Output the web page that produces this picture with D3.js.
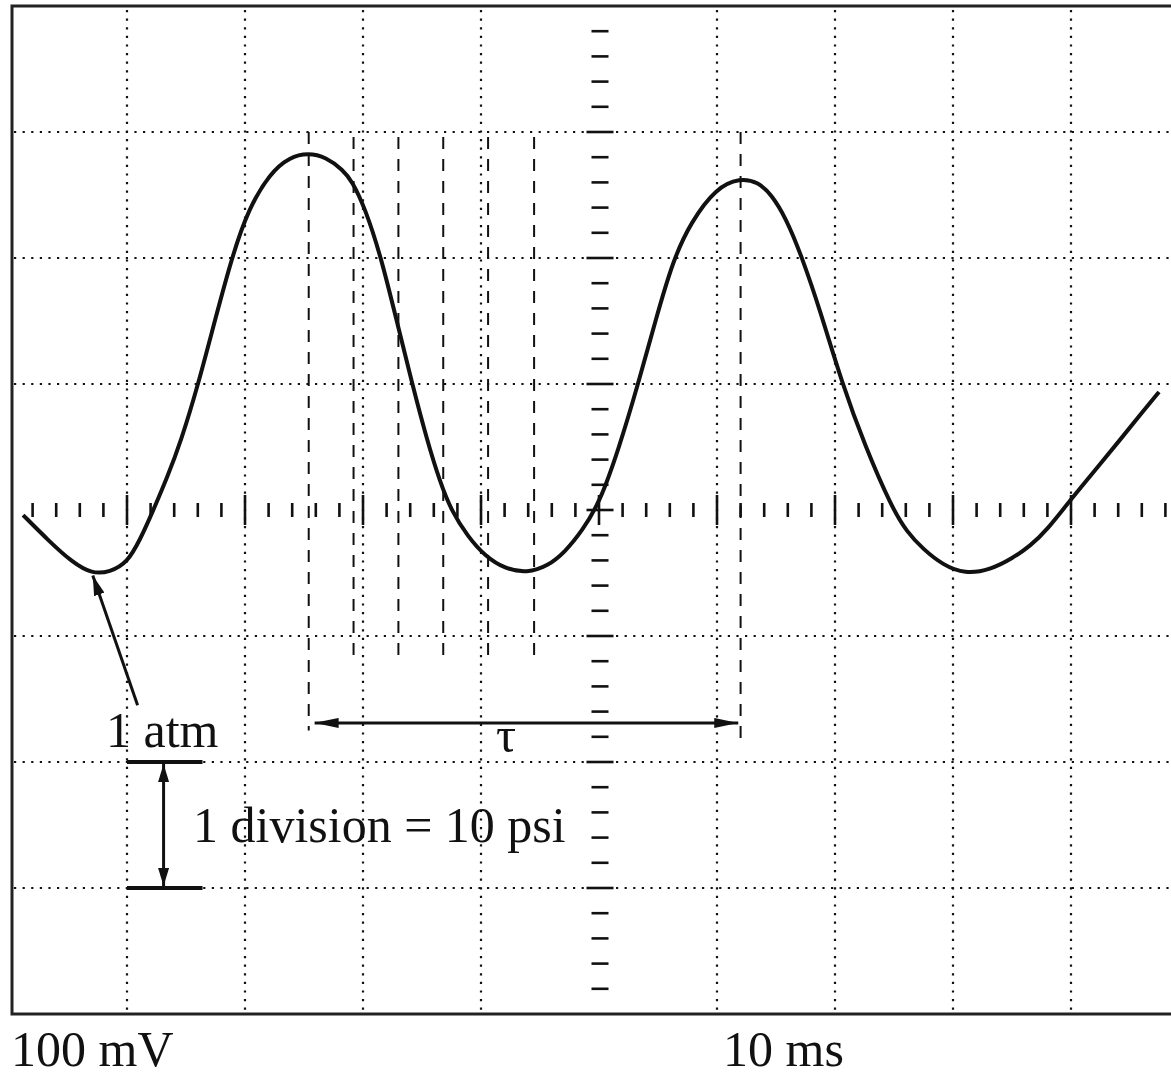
<!DOCTYPE html>
<meta charset="utf-8">
<style>
body { margin: 0; background: #fff; }
text { font-family: "Liberation Serif", "Times New Roman", serif; fill: #111; }
</style>
<svg width="1171" height="1078"></svg>
<script src="https://cdn.jsdelivr.net/npm/d3@7/dist/d3.min.js"></script>
<script>

// trace, in divisions (time, volts)
var waveT = [-4.881, -4.653, -4.466, -4.297, -4.144, -4.000, -3.890, -3.780, -3.661, -3.542,
             -3.398, -3.254, -3.110, -2.975, -2.788, -2.619, -2.466, -2.314, -2.169, -2.093,
             -1.983, -1.847, -1.712, -1.585, -1.458, -1.347, -1.254, -1.110, -0.966, -0.797,
             -0.610, -0.432, -0.288, -0.144, 0.008, 0.169, 0.322, 0.475, 0.627, 0.780,
              0.992, 1.195, 1.347, 1.458, 1.585, 1.720, 1.873, 2.059, 2.254, 2.483,
              2.610, 2.746, 2.915, 3.102, 3.314, 3.508, 3.653, 3.797, 4.008, 4.212,
              4.415, 4.585, 4.746];
var waveV = [-0.040, -0.254, -0.413, -0.508, -0.492, -0.421, -0.238, -0.008, 0.254, 0.548,
              0.992, 1.508, 2.008, 2.381, 2.675, 2.802, 2.833, 2.802, 2.698, 2.611,
              2.397, 2.008, 1.492, 1.008, 0.556, 0.222, 0.000, -0.214, -0.365, -0.468,
             -0.500, -0.444, -0.333, -0.167, 0.063, 0.492, 0.968, 1.492, 1.984, 2.286,
              2.556, 2.635, 2.603, 2.508, 2.317, 2.008, 1.587, 1.008, 0.508, 0.016,
             -0.175, -0.310, -0.437, -0.508, -0.476, -0.381, -0.286, -0.159, 0.095, 0.325,
              0.556, 0.754, 0.937];

var gridT = [-4, -3, -2, -1, 1, 2, 3, 4];
var gridV = [-3, -2, -1, 1, 2, 3];

// dashed cursor lines
var cursorT      = [-2.46, -2.08, -1.70, -1.32, -0.94, -0.55, 1.20];
var cursorTop    = [3.00, 2.96, 2.96, 2.96, 2.96, 2.96, 3.00];
var cursorBottom = [-1.75, -1.23, -1.23, -1.23, -1.23, -1.23, -1.87];

var periodArrow = {from: -2.41, to: 1.18, v: -1.69, label: "τ"};
var scaleBar = {t0: -4, t1: -3.36, tArrow: -3.69, vTop: -2, vBottom: -3};
var pointer = {from: [-3.91, -1.55], to: [-4.29, -0.52]};

var svg = d3.select("svg");

var x = d3.scaleLinear().domain([-5, 5]).range([9, 1189]),
    y = d3.scaleLinear().domain([-4, 4]).range([1014, 6]);

var defs = svg.append("defs");
function head(id, w, h) {
  defs.append("marker")
      .attr("id", id)
      .attr("viewBox", "0 0 10 10")
      .attr("refX", 10).attr("refY", 5)
      .attr("markerUnits", "userSpaceOnUse")
      .attr("markerWidth", w).attr("markerHeight", h)
      .attr("orient", "auto-start-reverse")
      .attr("preserveAspectRatio", "none")
    .append("path")
      .attr("d", "M0,0L10,5L0,10z")
      .attr("fill", "#111");
}
head("tau", 24, 10);
head("bar", 18, 11);
head("ptr", 20, 11);

// screen frame
svg.append("rect")
    .attr("x", 12).attr("y", y(4))
    .attr("width", x(5) - 12).attr("height", y(-4) - y(4))
    .attr("fill", "none").attr("stroke", "#222").attr("stroke-width", 3);

// dotted graticule
var g = svg.append("g")
    .attr("stroke", "#111").attr("stroke-width", 2.2)
    .attr("stroke-dasharray", "2.2 6.4");

g.selectAll(".gx").data(gridT).enter().append("line")
    .attr("x1", function(d) { return x(d); }).attr("x2", function(d) { return x(d); })
    .attr("y1", y(4) + 4).attr("y2", y(-4));

g.selectAll(".gy").data(gridV).enter().append("line")
    .attr("y1", function(d) { return y(d); }).attr("y2", function(d) { return y(d); })
    .attr("x1", 14).attr("x2", x(5));

// centre axes with minor ticks (5 per division)
var hTicks = d3.range(-24, 25).map(function(k) { return k / 5; }),
    vTicks = d3.range(-19, 20).map(function(k) { return k / 5; });

function major(d) { return Math.abs(d - Math.round(d)) < 1e-6; }

var ax = svg.append("g").attr("stroke", "#111").attr("stroke-width", 2.6);

ax.selectAll(".ht").data(hTicks).enter().append("line")
    .attr("x1", function(d) { return x(d); }).attr("x2", function(d) { return x(d); })
    .attr("y1", function(d) { return y(0) - (major(d) ? 15 : 7); })
    .attr("y2", function(d) { return y(0) + (major(d) ? 15 : 7); });

ax.selectAll(".vt").data(vTicks).enter().append("line")
    .attr("y1", function(d) { return y(d); }).attr("y2", function(d) { return y(d); })
    .attr("x1", function(d) { return x(0) + 1 - (major(d) ? 13.5 : 8.5); })
    .attr("x2", function(d) { return x(0) + 1 + (major(d) ? 13.5 : 8.5); });

// dashed cursors
svg.append("g").selectAll("line").data(cursorT).enter().append("line")
    .attr("x1", function(d) { return x(d); }).attr("x2", function(d) { return x(d); })
    .attr("y1", function(d, i) { return y(cursorTop[i]); })
    .attr("y2", function(d, i) { return y(cursorBottom[i]); })
    .attr("stroke", "#111").attr("stroke-width", 2)
    .attr("stroke-dasharray", "12 10");

// the trace
var line = d3.line()
    .x(function(d) { return x(d[0]); })
    .y(function(d) { return y(d[1]); })
    .curve(d3.curveBasis);

svg.append("path")
    .datum(d3.zip(waveT, waveV))
    .attr("d", line)
    .attr("fill", "none")
    .attr("stroke", "#111")
    .attr("stroke-width", 4)
    .attr("stroke-linejoin", "round");

// period arrow
svg.append("line")
    .attr("x1", x(periodArrow.from)).attr("x2", x(periodArrow.to))
    .attr("y1", y(periodArrow.v)).attr("y2", y(periodArrow.v))
    .attr("stroke", "#111").attr("stroke-width", 3)
    .attr("marker-start", "url(#tau)").attr("marker-end", "url(#tau)");

svg.append("text")
    .attr("x", 506).attr("y", 752)
    .attr("text-anchor", "middle")
    .attr("font-size", 50)
    .text(periodArrow.label);

// 1 atm pointer
svg.append("line")
    .attr("x1", x(pointer.from[0])).attr("y1", y(pointer.from[1]))
    .attr("x2", x(pointer.to[0])).attr("y2", y(pointer.to[1]))
    .attr("stroke", "#111").attr("stroke-width", 3)
    .attr("marker-end", "url(#ptr)");

// one-division scale bar
var sb = svg.append("g").attr("stroke", "#111");
[scaleBar.vTop, scaleBar.vBottom].forEach(function(v) {
  sb.append("line")
      .attr("x1", x(scaleBar.t0)).attr("x2", x(scaleBar.t1))
      .attr("y1", y(v)).attr("y2", y(v))
      .attr("stroke-width", 4);
});
sb.append("line")
    .attr("x1", x(scaleBar.tArrow)).attr("x2", x(scaleBar.tArrow))
    .attr("y1", y(scaleBar.vTop) + 2).attr("y2", y(scaleBar.vBottom) - 2)
    .attr("stroke-width", 3)
    .attr("marker-start", "url(#bar)").attr("marker-end", "url(#bar)");

// labels
svg.append("text").attr("x", 106).attr("y", 747).attr("font-size", 50).text("1 atm");
svg.append("text").attr("x", 193).attr("y", 842).attr("font-size", 50).text("1 division = 10 psi");
svg.append("text").attr("x", 11).attr("y", 1066).attr("font-size", 50).text("100 mV");
svg.append("text").attr("x", 723).attr("y", 1066).attr("font-size", 50).text("10 ms");

</script>
